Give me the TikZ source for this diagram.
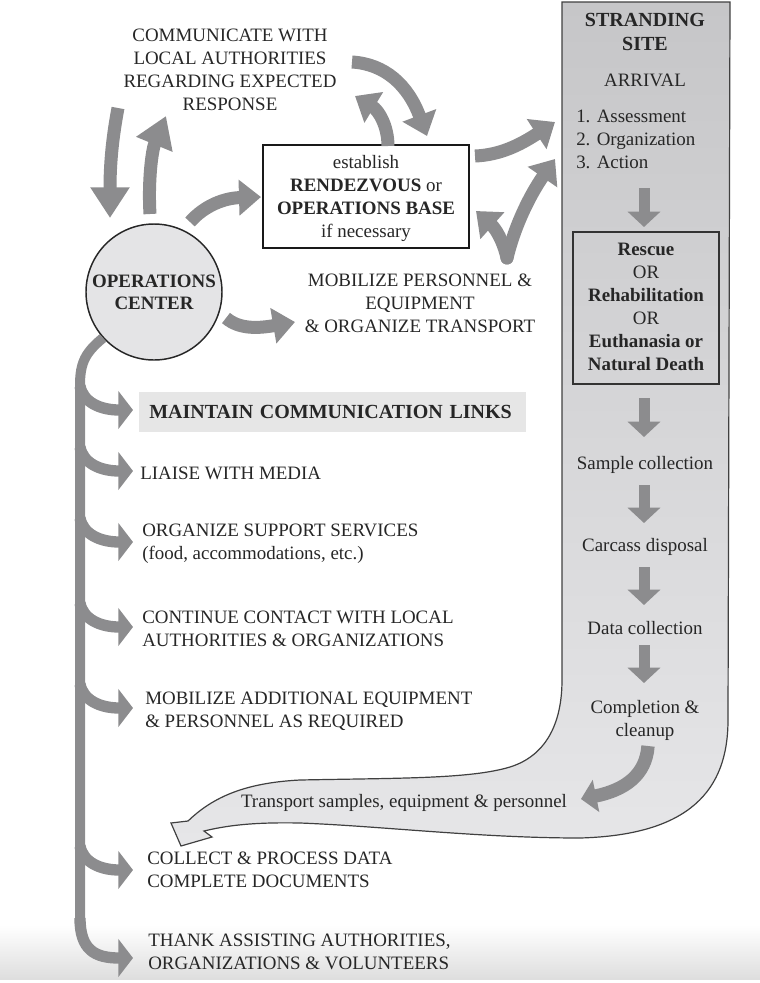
\documentclass[tikz,border=0pt]{standalone}
\usepackage{fontspec}
\setmainfont{Liberation Serif}
\usetikzlibrary{arrows.meta}
\definecolor{agray}{HTML}{8C8C8E}
\definecolor{sitetop}{HTML}{C6C6C8}
\definecolor{sitebot}{HTML}{E6E6E8}
\definecolor{ocfill}{HTML}{E4E4E6}
\definecolor{mcfill}{HTML}{E6E6E6}
\definecolor{ink}{HTML}{262626}
\tikzset{
  txt/.style={inner sep=0pt, text=ink, font=\fontsize{14.2}{17.25}\selectfont},
  fat/.style={draw=agray, line width=9.75pt, -{Triangle[length=16.5pt,width=26pt]}},
  fatlong/.style={draw=agray, line width=9.75pt, -{Triangle[length=23pt,width=28pt]}},
  branch/.style={draw=agray, line width=8.5pt, -{Triangle[length=11pt,width=28pt]}},
  trunk/.style={draw=agray, line width=7.5pt},
  colarrow/.style={draw=agray, line width=8.25pt, -{Triangle[length=11.5pt,width=24pt]}}
}
\begin{document}
\begin{tikzpicture}[x=0.75pt,y=-0.75pt]
\useasboundingbox (0,0) rectangle (760,983);
\shade[top color=white, bottom color=black!13] (0,925) rectangle (760,979);

% stranding site band
\shadedraw[top color=sitetop, bottom color=sitebot, draw=black!75, line width=0.9pt]
  (562,2) -- (730,2) -- (728,720)
  .. controls (728,790) and (690,835) .. (580,838)
  .. controls (480,838) and (380,826) .. (300,823)
  .. controls (250,822) and (225,826) .. (204,831)
  -- (212,837) -- (181,846) -- (171,823) -- (188,821)
  .. controls (210,800) and (240,783) .. (300,780)
  .. controls (400,778) and (470,779) .. (510,767)
  .. controls (545,756) and (562,725) .. (562,680) -- cycle;

% stranding site contents
\node[txt, font=\fontsize{15}{18}\selectfont\bfseries, align=center] (site) at (645,32) {STRANDING\\SITE};
\node[txt, align=center] (arrival) at (645,80) {ARRIVAL};
\node[txt, align=left, anchor=west] (steps) at (576,139) {1. Assessment\\2. Organization\\3. Action};
\node[draw=black!80, line width=0.9pt, minimum width=109.5pt, minimum height=114pt, inner sep=0pt] (choice) at (646,308) {};
\node[txt, align=center] (choicetxt) at (646,307) {\textbf{Rescue}\\OR\\\textbf{Rehabilitation}\\OR\\\textbf{Euthanasia or}\\\textbf{Natural Death}};
\node[txt] (sample) at (645,465) {Sample collection};
\node[txt] (carcass) at (645,547) {Carcass disposal};
\node[txt] (data) at (645,628) {Data collection};
\node[txt, align=center] (complete) at (645,720) {Completion \&\\cleanup};
\node[txt] (transport) at (404,803) {Transport samples, equipment \& personnel};

\coordinate (c1a) at (644,188); \coordinate (c1b) at (644,227);
\coordinate (c2a) at (644,398); \coordinate (c2b) at (644,437);
\coordinate (c3a) at (644,485); \coordinate (c3b) at (644,523);
\coordinate (c4a) at (644,567); \coordinate (c4b) at (644,605);
\coordinate (c5a) at (644,645); \coordinate (c5b) at (644,683);
\draw[colarrow] (c1a) -- (c1b);
\draw[colarrow] (c2a) -- (c2b);
\draw[colarrow] (c3a) -- (c3b);
\draw[colarrow] (c4a) -- (c4b);
\draw[colarrow] (c5a) -- (c5b);
\coordinate (c6a) at (648,746); \coordinate (c6b) at (581,799);
\draw[colarrow, line width=10pt] (c6a) .. controls (646,775) and (625,790) .. (c6b);

% left upper part
\node[txt, align=center] (comm) at (230,70) {COMMUNICATE WITH\\LOCAL AUTHORITIES\\REGARDING EXPECTED\\RESPONSE};
\node[circle, draw=black!85, line width=1.1pt, fill=ocfill, minimum size=102pt, inner sep=0pt] (oc) at (154,292) {};
\node[txt, font=\fontsize{14.2}{16.5}\selectfont\bfseries, align=center] (octxt) at (154,292) {OPERATIONS\\CENTER};
\node[draw=black!90, line width=1.2pt, fill=white, minimum width=154.5pt, minimum height=77pt, inner sep=0pt] (rv) at (366,196.5) {};
\node[txt, align=center] (rvtxt) at (366,198) {establish\\\textbf{RENDEZVOUS} or\\\textbf{OPERATIONS BASE}\\if necessary};
\node[txt, align=center] (mob) at (420,303) {MOBILIZE PERSONNEL \&\\EQUIPMENT\\\& ORGANIZE TRANSPORT};

% top arrows
\coordinate (d1a) at (118,108); \coordinate (d1b) at (110,218);
\draw[fatlong] (d1a) .. controls (112,140) and (110,165) .. (d1b);
\coordinate (u1a) at (150,214); \coordinate (u1b) at (166,116);
\draw[fatlong] (u1a) .. controls (148,180) and (152,150) .. (u1b);
\coordinate (r1a) at (190,222); \coordinate (r1b) at (261,197);
\draw[fat] (r1a) .. controls (205,205) and (225,198) .. (r1b);
\coordinate (m1a) at (226,318); \coordinate (m1b) at (295,322);
\draw[fat] (m1a) .. controls (240,330) and (260,328) .. (m1b);
\coordinate (b1a) at (388,146); \coordinate (b1b) at (355,96);
\draw[fat] (b1a) .. controls (388,125) and (378,110) .. (b1b);
\coordinate (t1a) at (352,62); \coordinate (t1b) at (427,136);
\draw[fat] (t1a) .. controls (385,64) and (408,85) .. (t1b);
\coordinate (s1a) at (475,156); \coordinate (s1b) at (555,122);
\draw[fat] (s1a) .. controls (500,155) and (520,145) .. (s1b);
\coordinate (vb) at (507,258); \coordinate (v1) at (476,211); \coordinate (v2) at (555,159);
\draw[fat, line cap=round] (vb) .. controls (503,240) and (495,228) .. (v1);
\draw[fat, line cap=round] (vb) .. controls (515,225) and (530,195) .. (v2);

% left trunk and branches
\node[anchor=west, fill=mcfill, minimum width=290pt, minimum height=30pt, inner xsep=7.5pt, inner ysep=0pt, text width=275pt, align=left, text=ink, font=\fontsize{15}{18}\selectfont\bfseries] (maint) at (139,411.5) {MAINTAIN COMMUNICATION LINKS};
\node[txt, anchor=west] (media) at (140,473) {LIAISE WITH MEDIA};
\node[txt, anchor=west, align=left] (support) at (142,543.5) {ORGANIZE SUPPORT SERVICES\\(food, accommodations, etc.)};
\node[txt, anchor=west, align=left] (contact) at (142,628.5) {CONTINUE CONTACT WITH LOCAL\\AUTHORITIES \& ORGANIZATIONS};
\node[txt, anchor=west, align=left] (addl) at (145,711) {MOBILIZE ADDITIONAL EQUIPMENT\\\& PERSONNEL AS REQUIRED};
\node[txt, anchor=west, align=left] (collect) at (147,870) {COLLECT \& PROCESS DATA\\COMPLETE DOCUMENTS};
\node[txt, anchor=west, align=left] (thank) at (148,951.5) {THANK ASSISTING AUTHORITIES,\\ORGANIZATIONS \& VOLUNTEERS};

\coordinate (trtop) at (80,385); \coordinate (trbot) at (80,925);
\coordinate (thtip) at (133,958);
\draw[trunk] (oc.222) .. controls (86,352) and (80,362) .. (trtop) -- (trbot);
\draw[branch] (80,918) .. controls (80,950) and (95,958) .. (thtip);
\foreach \yy in {410,471,542,627,708,870}{
  \draw[branch] (80,\yy-24) .. controls (83,\yy-8) and (100,\yy) .. (133,\yy);
}
\end{tikzpicture}
\end{document}
